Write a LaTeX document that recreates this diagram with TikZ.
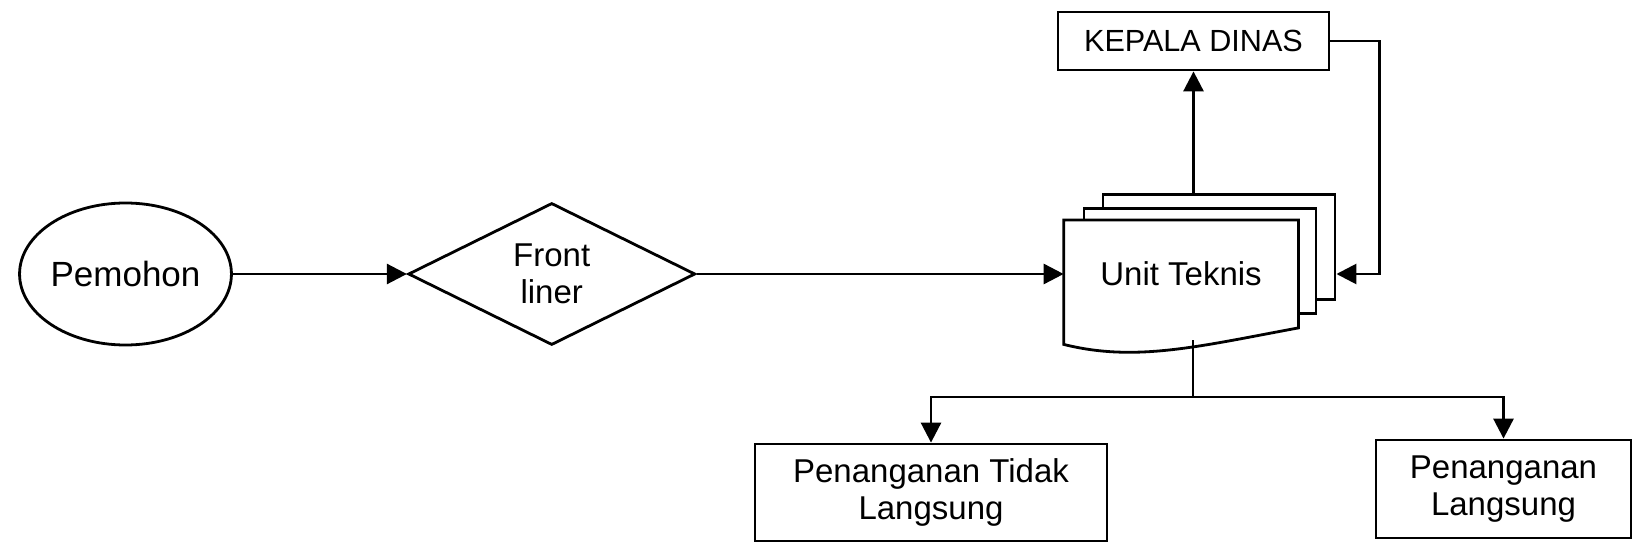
\documentclass[tikz,border=0pt]{standalone}
\usepackage{fontspec}
\setmainfont{Liberation Sans}
\usetikzlibrary{positioning,shapes.geometric,arrows.meta,backgrounds}

\begin{document}
\begin{tikzpicture}[
		x=0.5pt, y=-0.5pt,
		line width=1.4pt,
		font=\fontsize{16.5}{18.5}\selectfont,
		box/.style={draw, rectangle, inner sep=0pt, align=center},
		page/.style={draw, fill=white, rectangle, inner sep=0pt, minimum width=116pt, minimum height=52.5pt},
		arr/.style={-{Triangle[length=10pt,width=10pt]}},
	]
		\useasboundingbox (0,0) rectangle (1632,545);
		\node (pmh) [draw, ellipse, inner sep=0pt, minimum width=104.5pt, minimum height=71pt, font=\fontsize{17.5}{21}\selectfont] at (125.5,274) {Pemohon};
		\node (fl) [draw, diamond, inner sep=0pt, minimum width=143.5pt, minimum height=71pt, align=center, right=87pt of pmh] {Front\\liner};
		\node (ut) [rectangle, inner sep=0pt, minimum width=116pt, minimum height=52.5pt, right=183.5pt of fl] {Unit Teknis};
		\begin{scope}[on background layer={line width=1.4pt}]
			\node (ut3) [page, xshift=19pt, yshift=13.5pt] at (ut) {};
			\node (ut2) [page, xshift=9.5pt, yshift=6.5pt] at (ut) {};
			\draw[fill=white] (ut.north west) -- (ut.north east) -- (ut.south east) .. controls +(-100,18.5) and +(72,18) .. ([yshift=-8.25pt]ut.south west) -- cycle;
		\end{scope}
		\node (kd) [box, minimum width=135.5pt, minimum height=29pt, font=\fontsize{15.3}{17}\selectfont] at (1193.5,41) {KEPALA DINAS};
		\node (pt) [box, minimum width=176pt, minimum height=48.5pt] at (931,492.5) {Penanganan Tidak\\Langsung};
		\node (pl) [box, minimum width=127.5pt, minimum height=49pt] at (1503.5,489) {Penanganan\\Langsung};
		\coordinate (ub) at (1193,340);
		\coordinate (sp) at (1193,397);

		\draw[arr] (pmh.east) -- (fl.west);
		\draw[arr] (fl.east) -- (ut.west);
		\draw[arr] (kd.south|-ut3.north) -- (kd.south);
		\draw[arr] (kd.east) -- ++(49,0) |- (ut3.east|-ut.east);
		\draw (ub) -- (sp);
		\draw[arr] (sp) -| (pt.north);
		\draw[arr] (sp) -| (pl.north);
	\end{tikzpicture}
\end{document}
